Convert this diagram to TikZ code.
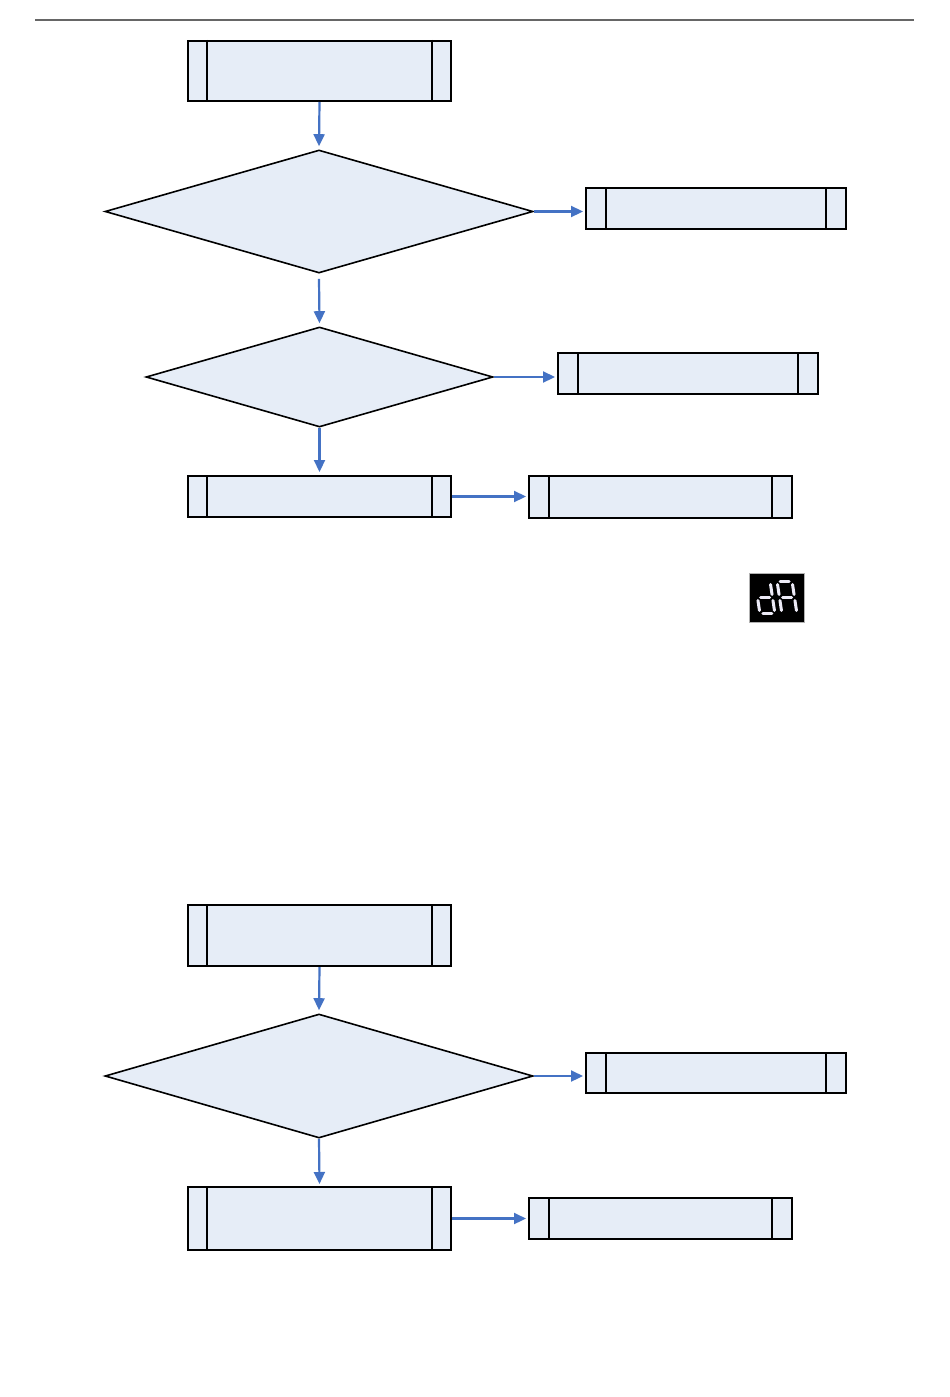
\documentclass[tikz,border=0pt]{standalone}
\usetikzlibrary{shapes.geometric,arrows.meta}
\definecolor{boxfill}{HTML}{E6EDF7}
\definecolor{arrowblue}{HTML}{4472C4}
\definecolor{segcol}{HTML}{ECEAF6}
\tikzset{
  procbox/.style={draw=black,fill=boxfill,line width=2pt,rectangle,inner sep=0pt},
  decision/.style={draw=black,fill=boxfill,line width=1.6pt,diamond,inner sep=0pt},
  flowarrow/.style={draw=arrowblue,line width=2.2pt,-{Triangle[length=12pt,width=11pt]}},
  segline/.style={draw=segcol,line width=3pt,line cap=round}
}
% \proc{name}{x1}{y1}{x2}{y2}{inset}
\newcommand{\proc}[6]{%
  \node[procbox,minimum width={#4-#2},minimum height={#5-#3}] (#1) at ({(#2+#4)/2},{(#3+#5)/2}) {};
  \draw[line width=2pt] ([xshift=#6]#1.north west) -- ([xshift=#6]#1.south west);
  \draw[line width=2pt] ([xshift=-#6]#1.north east) -- ([xshift=-#6]#1.south east);
}
\begin{document}
\begin{tikzpicture}[x=1pt,y=-1pt]
\useasboundingbox (0,0) rectangle (950,1397);
\fill[white] (0,0) rectangle (950,1397);
% top rule
\coordinate (ruleL) at (35,20);
\coordinate (ruleR) at (914,20);
\draw[gray!80!black,line width=1.2pt] (ruleL) -- (ruleR);

% ---- first chart ----
\proc{b1}{188}{41}{451}{101}{20pt}
\node[decision,minimum width=428pt,minimum height=123pt,aspect=3.48] (d1) at (319,211.5) {};
\proc{b2}{586}{188}{846}{229}{21pt}
\node[decision,minimum width=347pt,minimum height=100pt,aspect=3.47] (d2) at (319.5,377) {};
\proc{b3}{558}{353}{818}{394}{21pt}
\proc{b4}{188}{476}{451}{517}{20pt}
\proc{b5}{529}{476}{792}{518}{21pt}

\draw[flowarrow] (b1.south) -- ([yshift=3pt]d1.north);
\draw[flowarrow] (d1.east) -- ([xshift=-2pt]d1.east -| b2.west);
\draw[flowarrow] ([yshift=-5pt]d1.south) -- ([yshift=3pt]d2.north);
\draw[flowarrow] (d2.east) -- ([xshift=-2pt]d2.east -| b3.west);
\draw[flowarrow] (d2.south) -- ([yshift=3pt]b4.north);
\draw[flowarrow] (b4.east) -- ([xshift=-2pt]b4.east -| b5.west);

% ---- display "dA" ----
\node[fill=black,draw=gray!60,line width=0.6pt,minimum width=55pt,minimum height=49pt,inner sep=0pt] (disp) at (776.5,597.5) {};
\begin{scope}[shift={(disp.center)},xslant=-0.15]
  % digit d (left): segments b c d e g
  \begin{scope}[shift={(-19,-16)}]
    \draw[segline] (15,3) -- (15,13);   % b
    \draw[segline] (15,19) -- (15,29);  % c
    \draw[segline] (3,32) -- (12,32);   % d
    \draw[segline] (0,19) -- (0,29);    % e
    \draw[segline] (3,16) -- (12,16);   % g
  \end{scope}
  % digit A (right): segments a b c e f g
  \begin{scope}[shift={(3,-16)}]
    \draw[segline] (3,0) -- (12,0);     % a
    \draw[segline] (15,3) -- (15,13);   % b
    \draw[segline] (15,19) -- (15,29);  % c
    \draw[segline] (0,19) -- (0,29);    % e
    \draw[segline] (0,3) -- (0,13);     % f
    \draw[segline] (3,16) -- (12,16);   % g
  \end{scope}
\end{scope}

% ---- second chart ----
\proc{b6}{188}{905}{451}{966}{20pt}
\node[decision,minimum width=428pt,minimum height=124pt,aspect=3.45] (d3) at (319,1076) {};
\proc{b7}{586}{1053}{846}{1093}{21pt}
\proc{b8}{188}{1187}{451}{1250}{20pt}
\proc{b9}{529}{1198}{792}{1239}{21pt}

\draw[flowarrow] (b6.south) -- ([yshift=3pt]d3.north);
\draw[flowarrow] (d3.east) -- ([xshift=-2pt]d3.east -| b7.west);
\draw[flowarrow] (d3.south) -- ([yshift=2pt]b8.north);
\draw[flowarrow] (b8.east) -- ([xshift=-2pt]b8.east -| b9.west);
\end{tikzpicture}
\end{document}
